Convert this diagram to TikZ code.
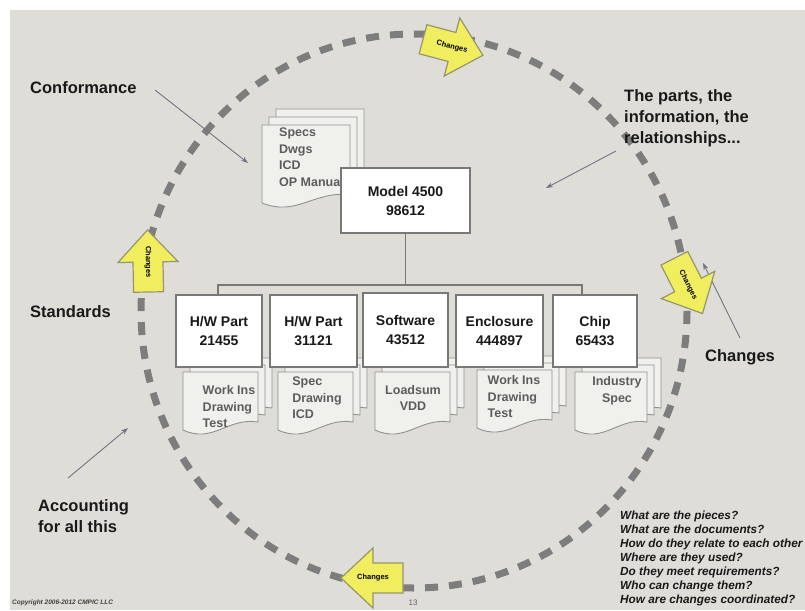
\documentclass[tikz,border=0pt]{standalone}
\usepackage{fontspec}
\setmainfont{Liberation Sans}
\usetikzlibrary{arrows.meta}
\definecolor{bg}{RGB}{223,221,216}
\definecolor{dashgray}{RGB}{125,125,125}
\definecolor{boxline}{RGB}{120,120,120}
\definecolor{pagefill}{RGB}{240,240,237}
\definecolor{pageline}{RGB}{145,145,145}
\definecolor{pagetext}{RGB}{92,92,92}
\definecolor{labeltext}{RGB}{25,25,25}
\definecolor{arrowline}{RGB}{115,115,130}
\definecolor{chgfill}{RGB}{240,238,95}
\definecolor{chgline}{RGB}{150,150,110}
\newcommand\docpage[4]{%
  \begin{scope}[shift={(#1,#2)}]
    \filldraw[docpagestyle] (0,0) -- (#3,0) -- (#3,#4-10)
      .. controls (0.6*#3,#4-15) and (0.4*#3,#4+12) .. (0,#4-2) -- cycle;
  \end{scope}}
\newcommand\docstack[6]{%
  \docpage{#1+2*#5}{#2-2*#6}{#3}{#4}%
  \docpage{#1+#5}{#2-#6}{#3}{#4}%
  \docpage{#1}{#2}{#3}{#4}}
\newcommand\chgarrow[4]{%
  \begin{scope}[shift={#2}, rotate=#3]
    \filldraw[chgstyle] (-30,-15) -- (0,-15) -- (0,-30) -- (32,0) -- (0,30) -- (0,15) -- (-30,15) -- cycle;
  \end{scope}
  \node[chgtext, rotate=#4] (#1) at #2 {Changes};}
\begin{document}
\begin{tikzpicture}[x=1pt,y=-1pt,
  docpagestyle/.style={fill=pagefill, draw=pageline, line width=0.9pt},
  chgstyle/.style={fill=chgfill, draw=chgline, line width=1.2pt, line join=miter},
  chgtext/.style={font=\bfseries\fontsize{7.5}{8}\selectfont, text=black, inner sep=0},
  partbox/.style={draw=boxline, fill=white, line width=1.3pt, inner sep=0,
    align=center, font=\bfseries\fontsize{14}{19}\selectfont, text=labeltext},
  doctext/.style={font=\bfseries\fontsize{12.5}{16.5}\selectfont, text=pagetext, inner sep=0},
  biglabel/.style={font=\bfseries\fontsize{16.5}{21}\selectfont, text=labeltext, inner sep=0, align=left},
  pointer/.style={draw=arrowline, line width=0.9pt, -{Stealth[length=7pt,width=5pt]}},
  conn/.style={draw=boxline, line width=1.1pt},
  ring/.style={draw=dashgray, line width=7pt, dash pattern=on 13pt off 11pt}
]
\useasboundingbox (0,0) rectangle (805,610);
\fill[white] (0,0) rectangle (805,610);
\fill[bg] (10,10) rectangle (805,610);

% dashed ring
\draw[ring] (414,311) ellipse [x radius=273, y radius=277];

% labels
\node[biglabel, anchor=west] (conf) at (30,88) {Conformance};
\node[biglabel, anchor=north west] (parts) at (624,89) {The parts, the\\information, the\\relationships...};
\node[biglabel, anchor=west] (std) at (30,312) {Standards};
\node[biglabel, anchor=west] (chg) at (705,357) {Changes};
\node[biglabel, anchor=west] (acct) at (38,516) {Accounting\\for all this};

\coordinate (confE) at (155,90);
\coordinate (confT) at (248,163);
\coordinate (partsE) at (616,151);
\coordinate (partsT) at (546,188);
\coordinate (chgE) at (740,338);
\coordinate (chgT) at (703,263);
\coordinate (acctE) at (68,478);
\coordinate (acctT) at (128,428);
\draw[pointer] (confE) -- (confT);
\draw[pointer] (partsE) -- (partsT);
\draw[pointer] (chgE) -- (chgT);
\draw[pointer] (acctE) -- (acctT);

% change arrows
\chgarrow{chgtop}{(452,47)}{-15}{-15}
\chgarrow{chgleft}{(148,262)}{91}{-89}
\chgarrow{chgright}{(688,285)}{-63}{-63}
\chgarrow{chgbot}{(373,578)}{180}{0}

% model doc stack
\docstack{262}{125}{88}{80}{7}{8}
\node[doctext, anchor=north west, align=left] (mdocs) at (279,128) {Specs\\Dwgs\\ICD\\OP Manual};

% model box
\node[partbox, minimum width=129pt, minimum height=65pt] (model) at (405.5,200.5) {Model 4500\\98612};

% doc stacks under parts
\docstack{183}{372}{75}{60}{7}{7}
\docstack{278}{372}{75}{60}{7}{7}
\docstack{375}{372}{75}{60}{7}{7}
\docstack{477}{370}{75}{60}{7}{7}
\docstack{575}{372}{72}{60}{7}{7}

% part boxes
\node[partbox, minimum width=86pt, minimum height=72pt] (b1) at (219,331) {H/W Part\\21455};
\node[partbox, minimum width=87pt, minimum height=72pt] (b2) at (313.5,331) {H/W Part\\31121};
\node[partbox, minimum width=85pt, minimum height=74pt] (b3) at (405.5,330) {Software\\43512};
\node[partbox, minimum width=87pt, minimum height=72pt] (b4) at (499.5,331) {Enclosure\\444897};
\node[partbox, minimum width=84pt, minimum height=72pt] (b5) at (595,331) {Chip\\65433};

% connectors
\coordinate (busL) at (218,285);
\coordinate (busR) at (582,285);
\draw[conn] (model.south) -- (model.south |- busL);
\draw[conn] (b1.north -| busL) -- (busL) -- (busR) -- (b5.north -| busR);

% doc texts
\node[doctext, align=left] (d1) at (229,407) {Work Ins\\Drawing\\Test};
\node[doctext, align=left] (d2) at (317,398) {Spec\\Drawing\\ICD};
\node[doctext, align=center] (d3) at (413,398) {Loadsum\\VDD};
\node[doctext, align=left] (d4) at (514,397) {Work Ins\\Drawing\\Test};
\node[doctext, align=center] (d5) at (617,391) {Industry\\Spec};

% questions
\node[anchor=north west, inner sep=0, align=left, text=labeltext,
  font=\bfseries\itshape\fontsize{11.8}{14}\selectfont] (qs) at (620,511)
  {What are the pieces?\\What are the documents?\\How do they relate to each other\\Where are they used?\\Do they meet requirements?\\Who can change them?\\How are changes coordinated?};

% footer
\node[anchor=west, inner sep=0, text=black!75, font=\bfseries\itshape\fontsize{6.5}{7}\selectfont] (copy) at (12,603) {Copyright 2006-2012 CMPIC LLC};
\node[inner sep=0, text=black!60, font=\rmfamily\fontsize{8}{9}\selectfont] (pg) at (413,603) {13};
\end{tikzpicture}
\end{document}
